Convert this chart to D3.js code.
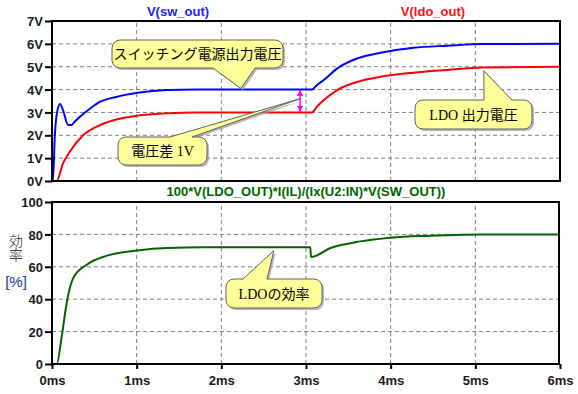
<!DOCTYPE html>
<html>
<head>
<meta charset="utf-8">
<script src="https://cdn.jsdelivr.net/npm/d3@7"></script>
<style>
  body { margin: 0; background: #fff; }
  svg { display: block; }
  .tick-label { font-family: Arial, "Liberation Sans", sans-serif; font-weight: bold; font-size: 13px; fill: #1a1a1a; }
  .note { font-family: "Liberation Serif", "Noto Sans CJK JP", serif; font-size: 14px; fill: #000; }
</style>
</head>
<body>
<div id="chart"></div>
<script>
'use strict';

// time axis (ms)
var timeTicks = [0, 1, 2, 3, 4, 5, 6];
var timeLabels = ['0ms', '1ms', '2ms', '3ms', '4ms', '5ms', '6ms'];
var voltTicks = [0, 1, 2, 3, 4, 5, 6, 7];
var voltLabels = ['0V', '1V', '2V', '3V', '4V', '5V', '6V', '7V'];
var pctTicks = [0, 20, 40, 60, 80, 100];

// V(sw_out)
var swTime = [0, 0.01, 0.035, 0.06, 0.095, 0.13, 0.19, 0.23, 0.27, 0.33, 0.45, 0.57, 0.77, 1.01, 1.36, 1.7, 3.07, 3.13, 3.21, 3.37, 3.61, 3.88, 4.27, 4.67, 5.08, 6.0];
var swVolt = [0, 0, 2.1, 3.0, 3.37, 3.1, 2.45, 2.45, 2.6, 2.81, 3.17, 3.47, 3.69, 3.86, 3.98, 4.0, 4.0, 4.2, 4.42, 4.93, 5.37, 5.61, 5.83, 5.92, 5.99, 6.0];

// V(ldo_out)
var ldoTime = [0, 0.055, 0.13, 0.21, 0.37, 0.57, 0.77, 1.01, 1.36, 1.7, 3.07, 3.13, 3.21, 3.37, 3.61, 3.88, 4.27, 4.67, 5.08, 6.0];
var ldoVolt = [0, 0, 0.77, 1.28, 2.01, 2.45, 2.7, 2.86, 2.96, 3.0, 3.0, 3.25, 3.54, 3.98, 4.34, 4.56, 4.74, 4.86, 4.97, 5.0];

// 100*V(LDO_OUT)*I(IL)/(Ix(U2:IN)*V(SW_OUT))
var effTime = [0, 0.055, 0.115, 0.17, 0.25, 0.41, 0.65, 1.01, 1.36, 1.8, 3.05, 3.06, 3.29, 3.64, 4.0, 4.47, 5.07, 6.0];
var effPct = [0, 0, 17, 36.6, 53, 61.3, 66.9, 70.1, 71.6, 72, 72, 66, 71.6, 75.7, 78, 79.2, 80, 80];

var W = 578, H = 394;
var left = 52, right = 560;

var svg = d3.select('#chart').append('svg').attr('width', W).attr('height', H);

var x = d3.scaleLinear().domain([0, 6]).range([left, right]);
var yTop = d3.scaleLinear().domain([0, 7]).range([181, 21]);
var yBot = d3.scaleLinear().domain([0, 100]).range([364, 202]);

function zip(a, b) {
  return a.map(function(d, i) { return [d, b[i]]; });
}

function panel(y, yt, ylabels, showX) {
  var g = svg.append('g');
  var y0 = y.range()[0], y1 = y.range()[1];

  // grid
  g.selectAll('.vg').data(timeTicks.slice(1, -1)).enter().append('line')
    .attr('x1', function(d) { return x(d); }).attr('x2', function(d) { return x(d); })
    .attr('y1', y0).attr('y2', y1)
    .attr('stroke', '#808080').attr('stroke-dasharray', '4,3').attr('stroke-width', 1);
  g.selectAll('.hg').data(yt.slice(1, -1)).enter().append('line')
    .attr('x1', left).attr('x2', right)
    .attr('y1', function(d) { return y(d); }).attr('y2', function(d) { return y(d); })
    .attr('stroke', '#808080').attr('stroke-dasharray', '4,3').attr('stroke-width', 1);

  // y axis ticks + labels
  var ax = d3.axisLeft(y).tickValues(yt).tickSize(7).tickFormat(function(d, i) { return ylabels[i]; });
  var a = g.append('g').attr('transform', 'translate(' + left + ',0)').call(ax);
  a.select('.domain').remove();
  a.selectAll('line').attr('stroke', '#000').attr('stroke-width', 2);
  a.selectAll('text').attr('class', 'tick-label').attr('x', -9).attr('dy', '0.36em');

  if (showX) {
    var bx = d3.axisBottom(x).tickValues(timeTicks).tickSize(5).tickFormat(function(d, i) { return timeLabels[i]; });
    var b = g.append('g').attr('transform', 'translate(0,' + y0 + ')').call(bx);
    b.select('.domain').remove();
    b.selectAll('line').attr('stroke', '#000').attr('stroke-width', 2);
    b.selectAll('text').attr('class', 'tick-label').attr('y', 12).attr('dy', '0.71em');
  }
  return g;
}

panel(yTop, voltTicks, voltLabels, false);
panel(yBot, pctTicks, pctTicks.map(String), true);

var line = function(y) {
  return d3.line().curve(d3.curveMonotoneX)
    .x(function(d) { return x(d[0]); }).y(function(d) { return y(d[1]); });
};

svg.append('clipPath').attr('id', 'ct').append('rect').attr('x', left).attr('y', 21).attr('width', right - left).attr('height', 160);
svg.append('clipPath').attr('id', 'cb').append('rect').attr('x', left).attr('y', 202).attr('width', right - left).attr('height', 162);

svg.append('path').datum(zip(ldoTime, ldoVolt)).attr('clip-path', 'url(#ct)')
  .attr('d', line(yTop)).attr('fill', 'none').attr('stroke', '#ff0000').attr('stroke-width', 2);
svg.append('path').datum(zip(swTime, swVolt)).attr('clip-path', 'url(#ct)')
  .attr('d', line(yTop)).attr('fill', 'none').attr('stroke', '#0000ff').attr('stroke-width', 2);
svg.append('path').datum(zip(effTime, effPct)).attr('clip-path', 'url(#cb)')
  .attr('d', line(yBot)).attr('fill', 'none').attr('stroke', '#006400').attr('stroke-width', 2);

// frames
svg.append('rect').attr('x', left).attr('y', 21).attr('width', right - left).attr('height', 160)
  .attr('fill', 'none').attr('stroke', '#000').attr('stroke-width', 2);
svg.append('rect').attr('x', left).attr('y', 202).attr('width', right - left - 1).attr('height', 162)
  .attr('fill', 'none').attr('stroke', '#000').attr('stroke-width', 2);

// titles
var titleFont = 'Arial, "Liberation Sans", sans-serif';
svg.append('text').attr('x', 178).attr('y', 16).attr('text-anchor', 'middle')
  .attr('font-family', titleFont).attr('font-weight', 'bold').attr('font-size', 13)
  .attr('fill', '#2020ff').text('V(sw_out)');
svg.append('text').attr('x', 433).attr('y', 16).attr('text-anchor', 'middle')
  .attr('font-family', titleFont).attr('font-weight', 'bold').attr('font-size', 13)
  .attr('fill', '#ff1010').text('V(ldo_out)');
svg.append('text').attr('x', 306).attr('y', 196).attr('text-anchor', 'middle')
  .attr('font-family', titleFont).attr('font-weight', 'bold').attr('font-size', 13)
  .attr('fill', '#006400').text('100*V(LDO_OUT)*I(IL)/(Ix(U2:IN)*V(SW_OUT))');

// y label of lower panel (vertical)
svg.append('text').attr('x', 16).attr('y', 234)
  .attr('font-family', '"Noto Sans CJK JP"').attr('font-size', 14).attr('font-weight', 300)
  .style('writing-mode', 'vertical-rl').attr('fill', '#222').text('効率');
svg.append('text').attr('x', 16).attr('y', 287).attr('text-anchor', 'middle')
  .attr('font-family', titleFont).attr('font-size', 15)
  .attr('fill', '#1a3a8a').text('[%]');

// magenta double arrow (voltage difference)
var arrX = x(2.93);
var defs = svg.append('defs');
defs.append('marker').attr('id', 'ah').attr('viewBox', '0 0 10 10').attr('refX', 9).attr('refY', 5)
  .attr('markerWidth', 4).attr('markerHeight', 4).attr('orient', 'auto-start-reverse')
  .append('path').attr('d', 'M0,0L10,5L0,10Z').attr('fill', '#ff00ff');
svg.append('line').attr('x1', arrX).attr('x2', arrX).attr('y1', yTop(3.96)).attr('y2', yTop(3.05))
  .attr('stroke', '#ff00ff').attr('stroke-width', 1.5)
  .attr('marker-start', 'url(#ah)').attr('marker-end', 'url(#ah)');

// callouts
function callout(bx, by, bw, bh, edge, a, b, tip, label) {
  var r = 8, p;
  p = 'M' + (bx + r) + ',' + by;
  if (edge === 'top') p += 'H' + a + 'L' + tip[0] + ',' + tip[1] + 'L' + b + ',' + by;
  p += 'H' + (bx + bw - r) + 'A' + r + ',' + r + ' 0 0 1 ' + (bx + bw) + ',' + (by + r);
  p += 'V' + (by + bh - r) + 'A' + r + ',' + r + ' 0 0 1 ' + (bx + bw - r) + ',' + (by + bh);
  if (edge === 'bottom') p += 'H' + b + 'L' + tip[0] + ',' + tip[1] + 'L' + a + ',' + (by + bh);
  p += 'H' + (bx + r) + 'A' + r + ',' + r + ' 0 0 1 ' + bx + ',' + (by + bh - r);
  p += 'V' + (by + r) + 'A' + r + ',' + r + ' 0 0 1 ' + (bx + r) + ',' + by + 'Z';

  var g = svg.append('g');
  g.append('path').attr('d', p).attr('transform', 'translate(2,2)').attr('fill', '#9a9a9a').attr('opacity', 0.7);
  g.append('path').attr('d', p).attr('fill', '#ffff99').attr('stroke', '#606060').attr('stroke-width', 1);
  g.append('text').attr('class', 'note').attr('x', bx + bw / 2).attr('y', by + bh / 2)
    .attr('text-anchor', 'middle').attr('dy', '0.36em').text(label);
}

callout(112, 40, 171, 28, 'bottom', 213, 255, [x(2.23), yTop(4.05)], 'スイッチング電源出力電圧');
callout(118, 137, 89, 28, 'top', 170, 192, [arrX, yTop(3.6)], '電圧差 1V');
callout(415, 100, 117, 29, 'top', 484, 512, [x(5.1), yTop(4.82)], 'LDO 出力電圧');
callout(226, 279, 96, 29, 'top', 243, 267, [x(2.62), yBot(70)], 'LDOの効率');
</script>
</body>
</html>
